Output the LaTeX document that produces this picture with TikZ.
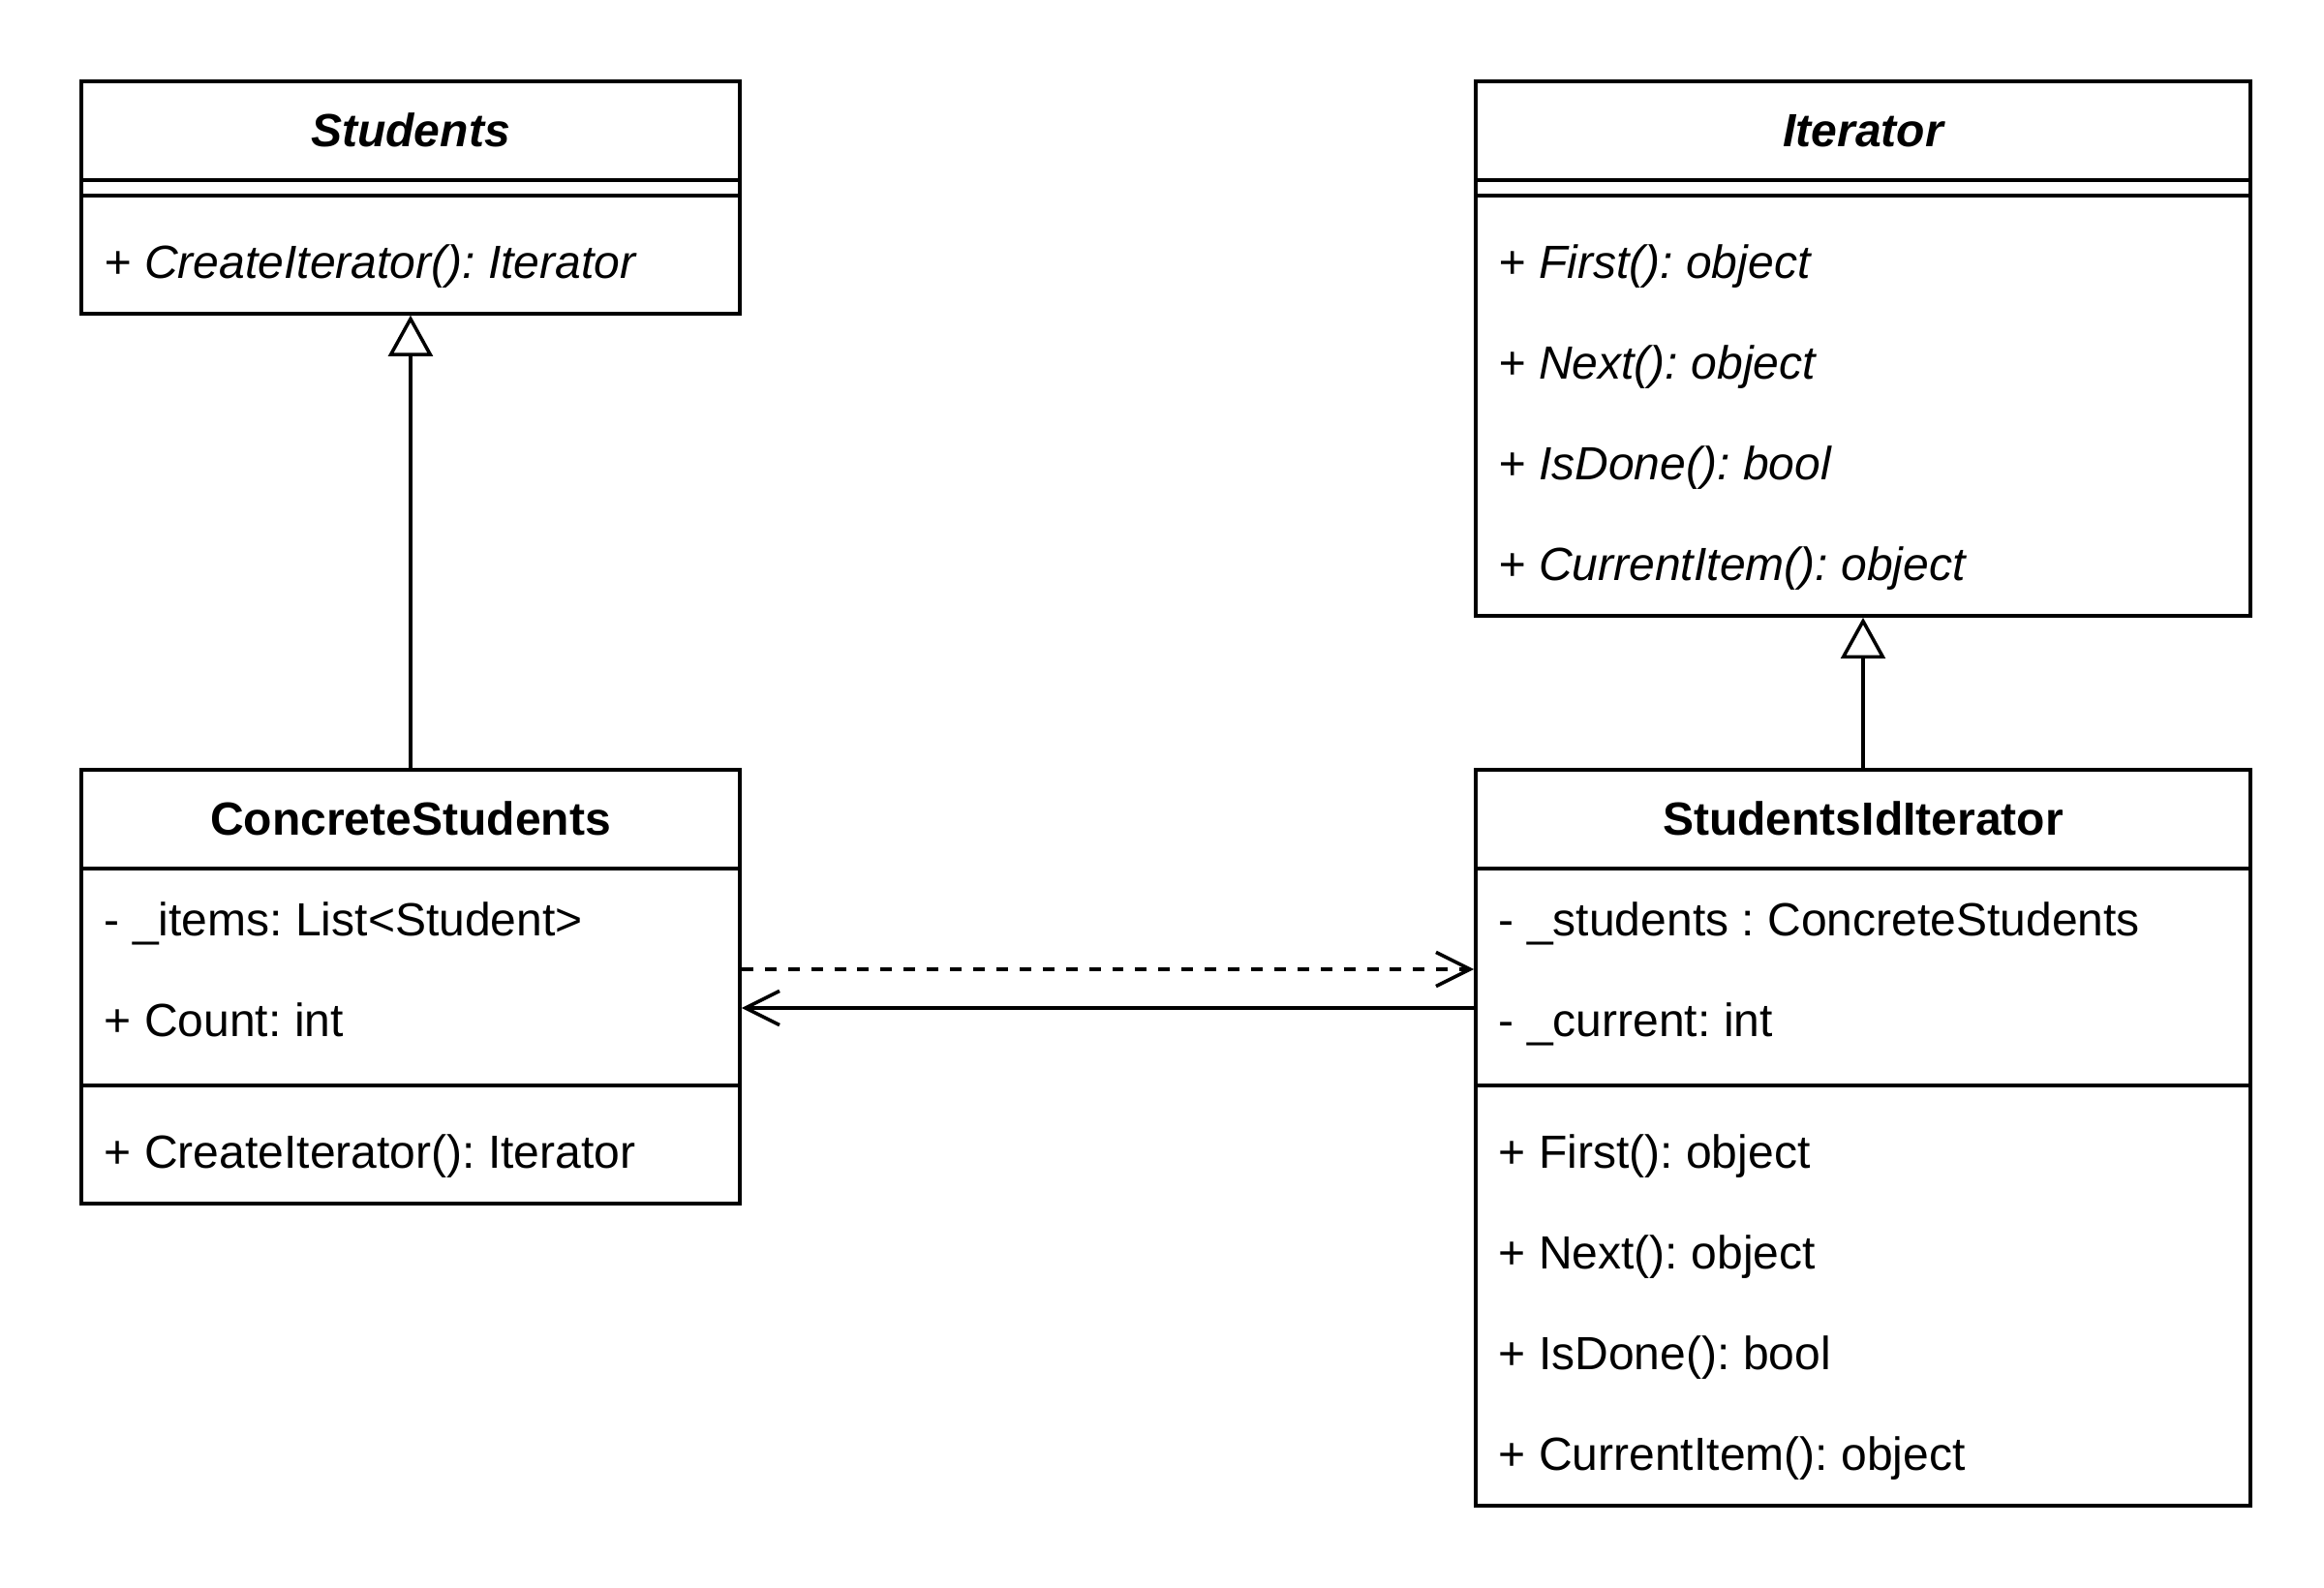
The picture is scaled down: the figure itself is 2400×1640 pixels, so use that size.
\documentclass[tikz,border=0pt]{standalone}
\usepackage{fontspec}
\setmainfont{Liberation Sans}
\usetikzlibrary{arrows.meta,positioning}
\newcommand{\umlfont}{\fontsize{13.66}{16}\selectfont}
\frenchspacing

\begin{document}
\begin{tikzpicture}[x=0.01cm, y=-0.01cm, line width=1pt,
 box/.style={draw, rectangle, inner sep=0pt, anchor=north west},
 ttl/.style={inner sep=0pt, anchor=base, font=\umlfont\bfseries},
 item/.style={inner sep=0pt, anchor=base west, font=\umlfont},
 gen/.style={-{Triangle[open, length=12pt, width=13pt]}},
 dep/.style={dash pattern=on 3.4pt off 3.4pt, -{Straight Barb[length=10pt, width=10pt]}},
 asc/.style={-{Straight Barb[length=10pt, width=10pt]}}]
\useasboundingbox (0,0) rectangle (2400,1640);
% classes
\node[box, minimum width=6.8cm, minimum height=2.4cm] (st) at (82,82) {};
\node[box, minimum width=8cm, minimum height=5.52cm] (it) at (1522,82) {};
\node[box, minimum width=6.8cm, minimum height=4.48cm] (cs) at (82,793) {};
\node[box, minimum width=8cm, minimum height=7.6cm] (sii) at (1522,793) {};
% compartments
\foreach \b in {st,it}{
 \draw ([yshift=-1.04cm]\b.north west) -- ([yshift=-1.04cm]\b.north east);
 \draw ([yshift=-1.2cm]\b.north west) -- ([yshift=-1.2cm]\b.north east);}
\foreach \b in {cs,sii}{
 \draw ([yshift=-1.04cm]\b.north west) -- ([yshift=-1.04cm]\b.north east);
 \draw ([yshift=-3.28cm]\b.north west) -- ([yshift=-3.28cm]\b.north east);}
% titles
\node[ttl, font=\umlfont\bfseries\itshape] (st-t) at ([yshift=-.69cm]st.north) {Students};
\node[ttl, font=\umlfont\bfseries\itshape] (it-t) at ([yshift=-.69cm]it.north) {Iterator};
\node[ttl] (cs-t) at ([yshift=-.69cm]cs.north) {ConcreteStudents};
\node[ttl] (sii-t) at ([yshift=-.69cm]sii.north) {StudentsIdIterator};
% members
\node[item, font=\umlfont\itshape] (st-m1) at ([xshift=.24cm, yshift=-2.05cm]st.north west) {+ CreateIterator(): Iterator};
\foreach \t [count=\i, evaluate=\i as \y using -2.05-1.04*(\i-1)] in {{First(): object},{Next(): object},{IsDone(): bool},{CurrentItem(): object}}{
 \node[item, font=\umlfont\itshape] (it-m\i) at ([xshift=.24cm, yshift=\y cm]it.north west) {+ \t};
 \node[item] (sii-m\i) at ([xshift=.24cm, yshift={\y cm - 2.08cm}]sii.north west) {+ \t};}
\node[item] (cs-a1) at ([xshift=.24cm, yshift=-1.73cm]cs.north west) {- \_items: List<Student>};
\node[item] (cs-a2) at ([xshift=.24cm, yshift=-2.77cm]cs.north west) {+ Count: int};
\node[item] (cs-m1) at ([xshift=.24cm, yshift=-4.13cm]cs.north west) {+ CreateIterator(): Iterator};
\node[item] (sii-a1) at ([xshift=.24cm, yshift=-1.73cm]sii.north west) {- \_students : ConcreteStudents};
\node[item] (sii-a2) at ([xshift=.24cm, yshift=-2.77cm]sii.north west) {- \_current: int};
% relations
\draw[gen] (cs) -- (st);
\draw[gen] (sii) -- (it);
\draw[dep] (cs.east |- 0,1001) -- (sii.west |- 0,1001);
\draw[asc] (sii.west |- 0,1041) -- (cs.east |- 0,1041);
\end{tikzpicture}
\end{document}
